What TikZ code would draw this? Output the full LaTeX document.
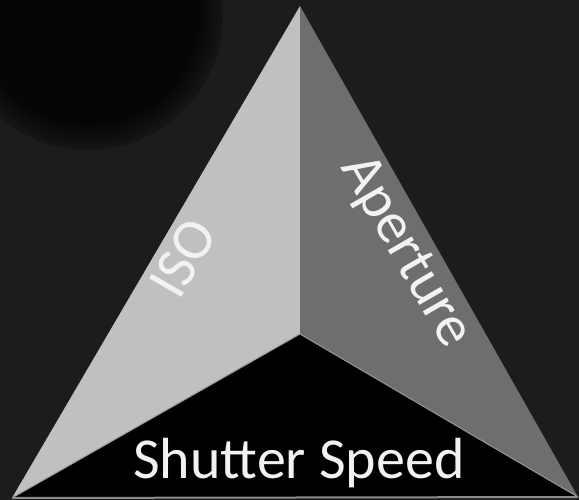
\documentclass[tikz,border=0pt]{standalone}
\usepackage{fontspec}
\setmainfont{Carlito}
\definecolor{bgc}{HTML}{1C1C1C}
\definecolor{shadowc}{HTML}{050505}
\definecolor{lightface}{HTML}{C0C0C0}
\definecolor{midface}{HTML}{6E6E6E}
\definecolor{txt}{HTML}{F2F2F2}
\pgfdeclareradialshading{softshadow}{\pgfpoint{0bp}{0bp}}{color(0bp)=(shadowc); color(20bp)=(shadowc); color(27bp)=(bgc); color(50bp)=(bgc)}
\tikzset{lbl/.style={text=txt, font=\fontsize{58}{60}\selectfont, inner sep=0pt}}
\begin{document}
\begin{tikzpicture}[x=1pt,y=-1pt]
\fill[bgc] (0,0) rectangle (579,500);
\useasboundingbox (0,0) rectangle (579,500);
\begin{scope}
\clip (0,0) rectangle (579,500);
\shade[shading=softshadow] (88,15) circle[radius=135];
\end{scope}
\coordinate (A) at (300,6);
\coordinate (L) at (12,498);
\coordinate (R) at (578,497);
\coordinate (C) at (300,334);
\fill[lightface] (A) -- (C) -- (L) -- cycle;
\fill[midface] (A) -- (R) -- (C) -- cycle;
\fill[black] (L) -- (C) -- (R) -- cycle;
\draw[gray!80, line width=1pt] (L) -- (C) -- (R);
\draw[gray!90, line width=2pt] (L) -- (R);
\node[lbl, anchor=base] (ss) at (299,478) {Shutter Speed};
\node[lbl, rotate=60] (iso) at (183,258) {ISO};
\node[lbl, rotate=-60] (ap) at (405,252) {Aperture};
\end{tikzpicture}
\end{document}
